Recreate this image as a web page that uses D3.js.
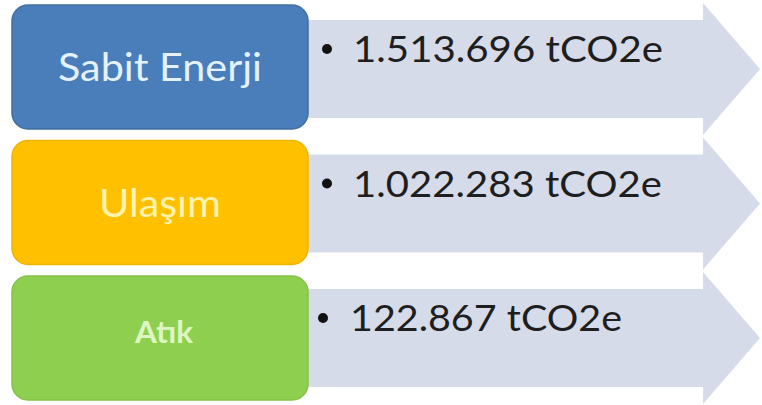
<!DOCTYPE html>
<html>
<head>
<meta charset="utf-8">
<script src="https://cdn.jsdelivr.net/npm/d3@7"></script>
<style>
  html, body { margin: 0; padding: 0; background: #ffffff; }
  svg { display: block; }
</style>
</head>
<body>
<svg id="chart" width="762" height="405"></svg>
<script>
// ---- data ----
const categories = ["Sabit Enerji", "Ulaşım", "Atık"];
const emissions = [1513696, 1022283, 122867];
const unitLabel = "tCO2e";

// ---- styles ----
const boxColors   = ["#4a7ebb", "#ffc000", "#8fcf4f"];
const boxStroke   = ["#41709f", "#f0b400", "#86c24a"];
const labelColors = ["#e4f2ff", "#fff3b0", "#def7c2"];
const arrowFill   = "#d5dbe8";

const W = 762, H = 405;
const svg = d3.select("#chart");

const trLocale = d3.formatLocale({decimal: ",", thousands: ".", grouping: [3], currency: ["", " ₺"]});
const fmt = trLocale.format(",d");

// row scale for the coloured boxes
const yBox = d3.scaleBand().domain(categories).range([5, 400]).paddingInner(0.085);
// arrows: centre positions
const yArrow = d3.scalePoint().domain(categories).range([69, 338]);
const xBox = d3.scaleLinear().domain([0, 1]).range([12, 308]);
const xArrow = d3.scaleLinear().domain([0, 1]).range([300, 760]);

const bodyHalf = 49, headHalf = 66, headBase = 703;

const rows = categories.map((c, i) => ({cat: c, value: emissions[i], i}));

// arrows (drawn first, behind boxes)
svg.append("g").selectAll("path")
  .data(rows).join("path")
  .attr("d", d => {
    const cy = yArrow(d.cat);
    const x0 = xArrow(0), x1 = xArrow(1);
    return `M${x0},${cy - bodyHalf} L${headBase},${cy - bodyHalf} L${headBase},${cy - headHalf} L${x1},${cy} L${headBase},${cy + headHalf} L${headBase},${cy + bodyHalf} L${x0},${cy + bodyHalf} Z`;
  })
  .attr("fill", arrowFill);

// boxes
svg.append("g").selectAll("rect")
  .data(rows).join("rect")
  .attr("x", xBox(0))
  .attr("y", d => yBox(d.cat))
  .attr("width", xBox(1) - xBox(0))
  .attr("height", yBox.bandwidth())
  .attr("rx", 16).attr("ry", 16)
  .attr("fill", d => boxColors[d.i])
  .attr("stroke", d => boxStroke[d.i])
  .attr("stroke-width", 1.5);

// box labels
const labelSize = [39, 39, 30];
const labelWidth = [204, 122, 58];
const labelDy = [14, 14, 5];
svg.append("g").selectAll("text")
  .data(rows).join("text")
  .attr("x", d => (xBox(0) + xBox(1)) / 2 + (d.i === 2 ? 4 : 0))
  .attr("y", d => yBox(d.cat) + yBox.bandwidth() / 2 + labelDy[d.i])
  .attr("text-anchor", "middle")
  .attr("font-family", "Lato, 'Open Sans', sans-serif")
  .attr("font-size", d => labelSize[d.i])
  .attr("font-weight", d => d.i === 2 ? 700 : 400)
  .attr("textLength", d => labelWidth[d.i])
  .attr("lengthAdjust", "spacingAndGlyphs")
  .attr("fill", d => labelColors[d.i])
  .text(d => d.cat);

// bullets
svg.append("g").selectAll("circle")
  .data(rows).join("circle")
  .attr("cx", d => d.i === 2 ? 323 : 327)
  .attr("cy", d => yArrow(d.cat) - 20)
  .attr("r", 5)
  .attr("fill", "#111");

// values
const valueWidth = [310, 309, 272];
svg.append("g").selectAll("text")
  .data(rows).join("text")
  .attr("x", d => d.i === 2 ? 350 : 353)
  .attr("y", d => yArrow(d.cat) - 7)
  .attr("font-family", "Lato, 'Open Sans', sans-serif")
  .attr("font-size", 37)
  .attr("textLength", d => valueWidth[d.i])
  .attr("lengthAdjust", "spacingAndGlyphs")
  .attr("fill", "#1e1e1e")
  .text(d => `${fmt(d.value)} ${unitLabel}`);
</script>
</body>
</html>
